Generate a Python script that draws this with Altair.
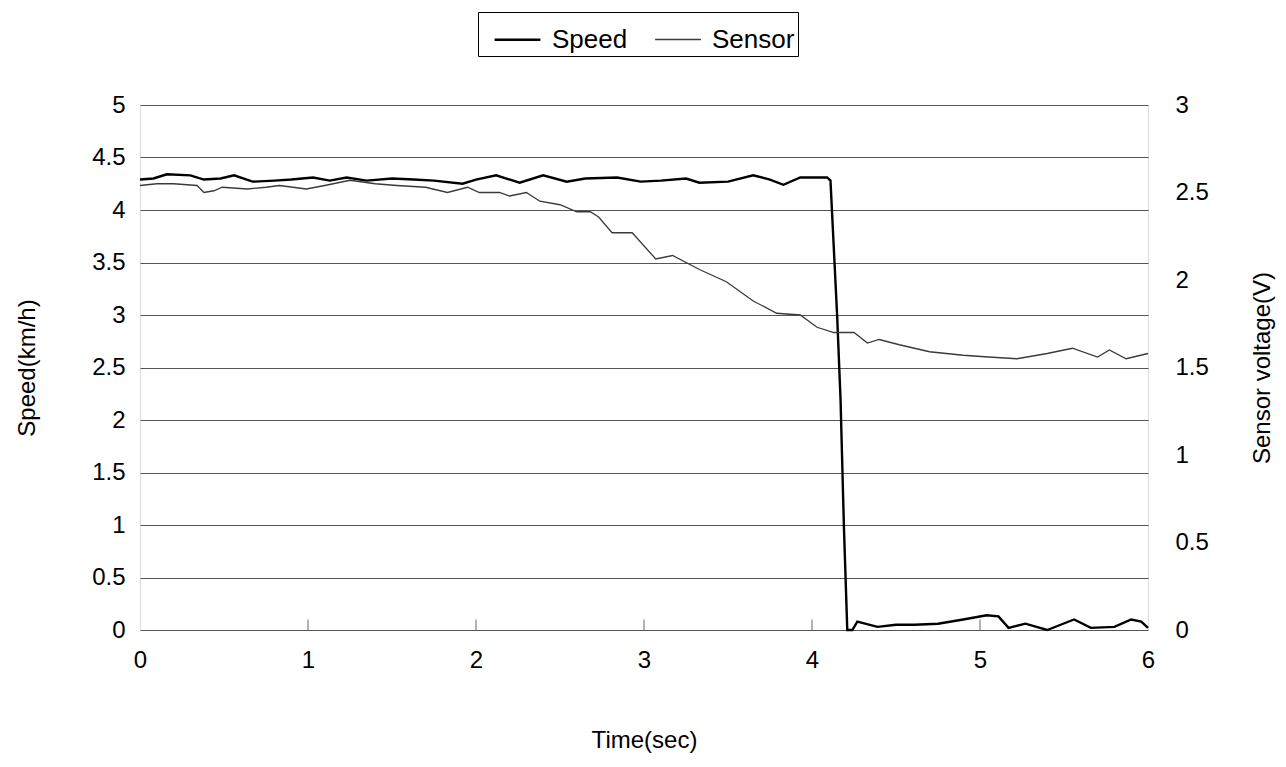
import altair as alt
import pandas as pd

# ---- data ----
speed_t = [0.00, 0.08, 0.16, 0.30, 0.38, 0.48, 0.56, 0.67, 0.80, 0.90, 1.03, 1.13, 1.23, 1.35,
           1.50, 1.63, 1.75, 1.92, 2.00, 2.12, 2.26, 2.40, 2.54, 2.65, 2.84, 2.98, 3.10, 3.25,
           3.33, 3.50, 3.65, 3.75, 3.83, 3.93, 4.09, 4.11, 4.15, 4.17, 4.19, 4.21, 4.24, 4.27,
           4.39, 4.50, 4.61, 4.75, 4.90, 5.04, 5.11, 5.17, 5.27, 5.40, 5.48, 5.56, 5.66, 5.80,
           5.90, 5.96, 6.00]
speed_v = [4.29, 4.30, 4.34, 4.33, 4.29, 4.30, 4.33, 4.27, 4.28, 4.29, 4.31, 4.28, 4.31, 4.28,
           4.30, 4.29, 4.28, 4.25, 4.29, 4.33, 4.26, 4.33, 4.27, 4.30, 4.31, 4.27, 4.28, 4.30,
           4.26, 4.27, 4.33, 4.29, 4.24, 4.31, 4.31, 4.28, 2.98, 2.19, 0.98, 0.00, 0.00, 0.08,
           0.03, 0.05, 0.05, 0.06, 0.10, 0.14, 0.13, 0.02, 0.06, 0.00, 0.05, 0.10, 0.02, 0.03,
           0.10, 0.08, 0.02]

sensor_t = [0.00, 0.10, 0.20, 0.34, 0.38, 0.44, 0.49, 0.64, 0.75, 0.83, 0.99, 1.10, 1.25, 1.40,
            1.53, 1.70, 1.83, 1.95, 2.02, 2.14, 2.20, 2.30, 2.38, 2.50, 2.60, 2.68, 2.73, 2.81,
            2.93, 3.07, 3.17, 3.33, 3.49, 3.65, 3.79, 3.93, 4.03, 4.13, 4.25, 4.33, 4.40, 4.52,
            4.70, 4.90, 5.05, 5.22, 5.40, 5.55, 5.70, 5.77, 5.87, 6.00]
sensor_v = [2.54, 2.55, 2.55, 2.54, 2.50, 2.51, 2.53, 2.52, 2.53, 2.54, 2.52, 2.54, 2.57, 2.55,
            2.54, 2.53, 2.50, 2.53, 2.50, 2.50, 2.48, 2.50, 2.45, 2.43, 2.39, 2.39, 2.36, 2.27,
            2.27, 2.12, 2.14, 2.06, 1.99, 1.88, 1.81, 1.80, 1.73, 1.70, 1.70, 1.64, 1.66, 1.63,
            1.59, 1.57, 1.56, 1.55, 1.58, 1.61, 1.56, 1.60, 1.55, 1.58]

x_ticks = [0, 1, 2, 3, 4, 5, 6]
speed_ticks = [0, 0.5, 1, 1.5, 2, 2.5, 3, 3.5, 4, 4.5, 5]
volt_ticks = [0, 0.5, 1, 1.5, 2, 2.5, 3]
inner_ticks = [1, 2, 3, 4, 5]

FONT = "Liberation Sans"
FS = 24

speed_df = pd.DataFrame({"t": speed_t, "v": speed_v, "series": "Speed"})
sensor_df = pd.DataFrame({"t": sensor_t, "v": sensor_v, "series": "Sensor"})
tick_df = pd.DataFrame({"t": inner_ticks, "y0": 0.0, "y1": 0.1})

xscale = alt.Scale(domain=[0, 6], nice=False)
color = alt.Color("series:N",
                  scale=alt.Scale(domain=["Speed", "Sensor"], range=["#000000", "#3a3a3a"]),
                  legend=alt.Legend(title=None, orient="none", legendX=338, legendY=-93,
                                    direction="horizontal", strokeColor="#000000",
                                    padding=3, labelFontSize=26, labelFont=FONT,
                                    symbolType="stroke", symbolSize=2100, symbolOffset=12,
                                    columnPadding=14, labelOffset=10))
swidth = alt.StrokeWidth("series:N",
                         scale=alt.Scale(domain=["Speed", "Sensor"], range=[2.4, 1.3]),
                         legend=None)

speed_line = alt.Chart(speed_df).mark_line().encode(
    x=alt.X("t:Q", scale=xscale,
            axis=alt.Axis(values=x_ticks, format="~g", title="Time(sec)", grid=False,
                          ticks=False, domain=False, labelFontSize=FS, titleFontSize=FS,
                          labelFont=FONT, titleFont=FONT, labelColor="#000",
                          titleColor="#000", titleFontWeight="normal", labelFlush=False,
                          labelPadding=18, titlePadding=56)),
    y=alt.Y("v:Q", scale=alt.Scale(domain=[0, 5], nice=False),
            axis=alt.Axis(values=speed_ticks, format="~g", title="Speed(km/h)", grid=True,
                          gridColor="#555555", gridWidth=1, ticks=False, domain=False,
                          labelFontSize=FS, titleFontSize=FS, labelFont=FONT,
                          titleFont=FONT, labelColor="#000", titleColor="#000",
                          titleFontWeight="normal", labelPadding=15, titlePadding=52,
                          labelFlush=False)),
    color=color,
    strokeWidth=swidth,
)

ticks_layer = alt.Chart(tick_df).mark_rule(color="#666666", strokeWidth=1).encode(
    x=alt.X("t:Q", scale=xscale),
    y=alt.Y("y0:Q", scale=alt.Scale(domain=[0, 5], nice=False)),
    y2="y1:Q",
)

sensor_line = alt.Chart(sensor_df).mark_line().encode(
    x=alt.X("t:Q", scale=xscale),
    y=alt.Y("v:Q", scale=alt.Scale(domain=[0, 3], nice=False),
            axis=alt.Axis(values=volt_ticks, format="~g", title="Sensor voltage(V)",
                          orient="right", grid=False, ticks=False, domain=False,
                          labelFontSize=FS, titleFontSize=FS, labelFont=FONT,
                          titleFont=FONT, labelColor="#000", titleColor="#000",
                          titleFontWeight="normal", titleAngle=270, titleBaseline="bottom",
                          labelPadding=27, titlePadding=66, labelFlush=False)),
    color=color,
    strokeWidth=swidth,
)

left = alt.layer(speed_line, ticks_layer)
chart = alt.layer(left, sensor_line).resolve_scale(
    y="independent"
).properties(
    width=1008, height=525,
    autosize=alt.AutoSizeParams(type="none"),
    padding={"left": 140, "top": 105, "right": 138, "bottom": 137},
).configure_view(
    stroke="#777777", strokeWidth=1
).configure(background="white")

chart.save("out.html", embed_options={"renderer": "svg", "actions": False})
